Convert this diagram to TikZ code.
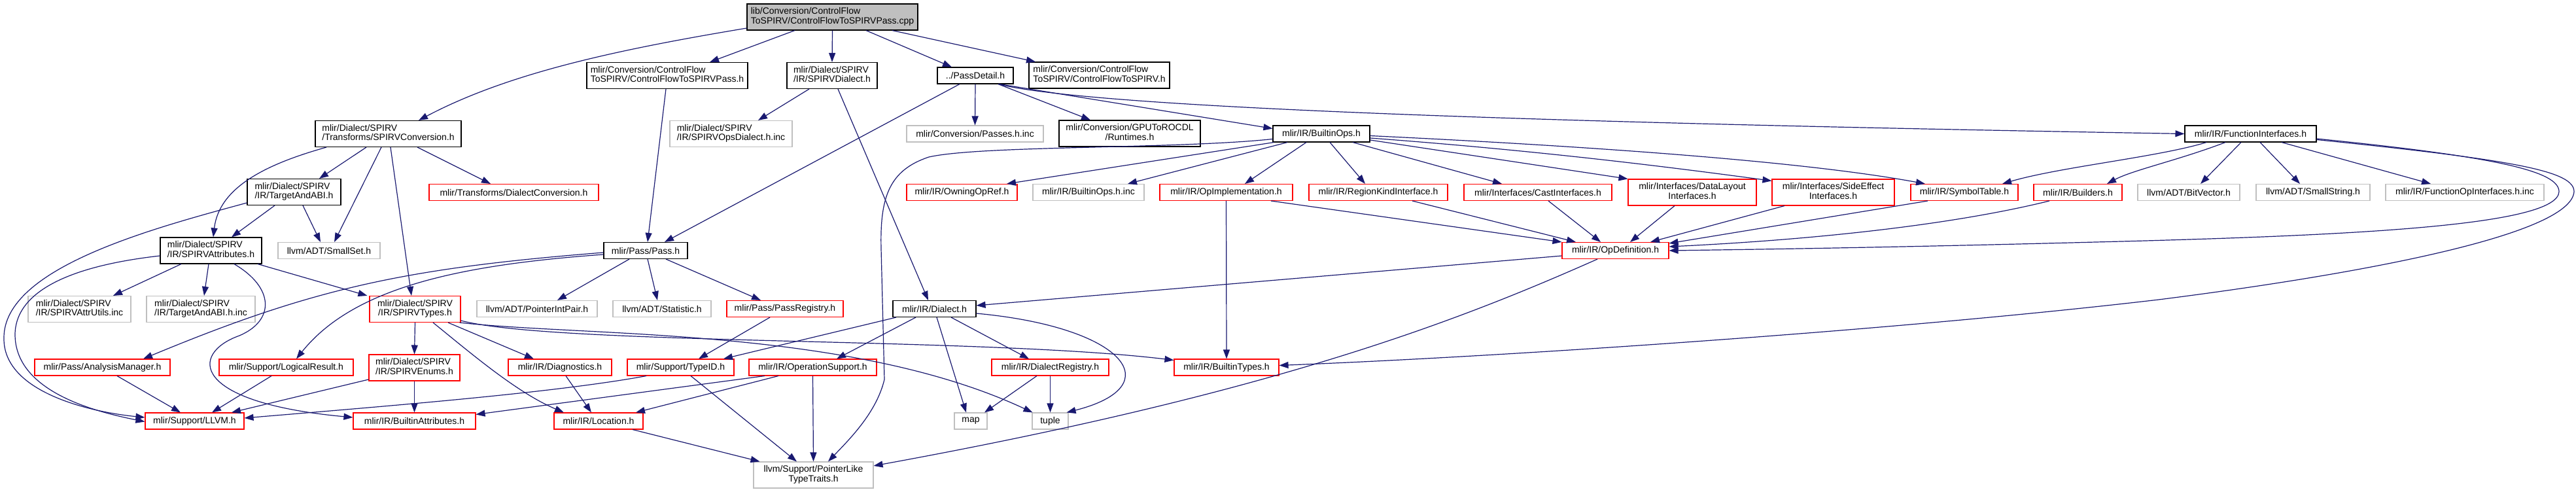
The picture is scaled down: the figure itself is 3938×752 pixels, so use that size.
\documentclass[tikz,border=0pt]{standalone}
\usepackage{fontspec}
\setmainfont{Liberation Sans}
\usetikzlibrary{arrows.meta}
\definecolor{edgeblue}{HTML}{191970}
\definecolor{grayline}{HTML}{BFBFBF}
\definecolor{topfill}{HTML}{BFBFBF}
\newcommand{\twoline}[2]{\begin{tabular}{@{}l@{}}#1\\\multicolumn{1}{@{}c@{}}{#2}\end{tabular}}
\renewcommand{\arraystretch}{1}
\tikzset{
  nd/.style={draw=black, line width=1.1pt, fill=white, inner sep=0pt, minimum height=25pt,
    font=\fontsize{14}{14.5}\selectfont, anchor=center},
  rnd/.style={nd, draw=red},
  gnd/.style={nd, draw=grayline},
  tall/.style={minimum height=40pt},
  e/.style={draw=edgeblue, line width=1.2pt, -{Triangle[length=14pt,width=10pt]}}
}
\begin{document}
\begin{tikzpicture}[x=1pt,y=-1pt]
\useasboundingbox (0,0) rectangle (3938,752);
% row 1
\node[nd, tall, fill=topfill, minimum width=261pt] (top) at (1272.5,26) {\twoline{lib/Conversion/ControlFlow}{ToSPIRV/ControlFlowToSPIRVPass.cpp}};
% row 2
\node[nd, tall, minimum width=246pt] (cfpass) at (1020,115.5) {\twoline{mlir/Conversion/ControlFlow}{ToSPIRV/ControlFlowToSPIRVPass.h}};
\node[nd, tall, minimum width=138pt] (spdialect) at (1272,115.5) {\twoline{mlir/Dialect/SPIRV}{/IR/SPIRVDialect.h}};
\node[nd, minimum width=116pt] (passdetail) at (1491,115.5) {../PassDetail.h};
\node[nd, tall, minimum width=215pt] (cfh) at (1680.5,115) {\twoline{mlir/Conversion/ControlFlow}{ToSPIRV/ControlFlowToSPIRV.h}};
% row 3
\node[nd, tall, minimum width=223pt] (conv) at (593.5,204.5) {\twoline{mlir/Dialect/SPIRV}{/Transforms/SPIRVConversion.h}};
\node[gnd, tall, minimum width=187pt] (opsdialect) at (1117.5,204.5) {\twoline{mlir/Dialect/SPIRV}{/IR/SPIRVOpsDialect.h.inc}};
\node[gnd, minimum width=209pt] (passesinc) at (1490.5,204.5) {mlir/Conversion/Passes.h.inc};
\node[nd, tall, minimum width=216pt] (rocdl) at (1727,204) {\twoline{mlir/Conversion/GPUToROCDL}{/Runtimes.h}};
\node[nd, minimum width=148pt] (builtinops) at (2020,204.5) {mlir/IR/BuiltinOps.h};
\node[nd, minimum width=201pt] (funcif) at (3440.5,204.5) {mlir/IR/FunctionInterfaces.h};
% row 4
\node[nd, tall, minimum width=143pt] (targetabi) at (449.5,293.5) {\twoline{mlir/Dialect/SPIRV}{/IR/TargetAndABI.h}};
\node[rnd, minimum width=259pt] (dialconv) at (785.5,294) {mlir/Transforms/DialectConversion.h};
\node[rnd, minimum width=169pt] (owning) at (1470.5,294) {mlir/IR/OwningOpRef.h};
\node[gnd, minimum width=170pt] (builtinopsinc) at (1664,294) {mlir/IR/BuiltinOps.h.inc};
\node[rnd, minimum width=203pt] (opimpl) at (1874.5,294) {mlir/IR/OpImplementation.h};
\node[rnd, minimum width=212pt] (regionkind) at (2107,294) {mlir/IR/RegionKindInterface.h};
\node[rnd, minimum width=226pt] (castif) at (2351,294) {mlir/Interfaces/CastInterfaces.h};
\node[rnd, tall, minimum width=196pt] (datalayout) at (2587,294) {\twoline{mlir/Interfaces/DataLayout}{Interfaces.h}};
\node[rnd, tall, minimum width=187pt] (sideeffect) at (2802.5,294) {\twoline{mlir/Interfaces/SideEffect}{Interfaces.h}};
\node[rnd, minimum width=164pt] (symtab) at (3003,294) {mlir/IR/SymbolTable.h};
\node[rnd, minimum width=135pt] (builders) at (3176.5,294) {mlir/IR/Builders.h};
\node[gnd, minimum width=156pt] (bitvector) at (3346,294) {llvm/ADT/BitVector.h};
\node[gnd, minimum width=174pt] (smallstring) at (3536,294) {llvm/ADT/SmallString.h};
\node[gnd, minimum width=242pt] (funcopinc) at (3768,294) {mlir/IR/FunctionOpInterfaces.h.inc};
% row 5
\node[nd, tall, minimum width=155pt] (attrs) at (322.5,383) {\twoline{mlir/Dialect/SPIRV}{/IR/SPIRVAttributes.h}};
\node[gnd, minimum width=156pt] (smallset) at (503,383) {llvm/ADT/SmallSet.h};
\node[nd, minimum width=128pt] (pass) at (987,383) {mlir/Pass/Pass.h};
\node[rnd, minimum width=163pt] (opdef) at (2469.5,383) {mlir/IR/OpDefinition.h};
% row 6
\node[gnd, tall, minimum width=157pt] (attrutils) at (121.5,472.5) {\twoline{mlir/Dialect/SPIRV}{/IR/SPIRVAttrUtils.inc}};
\node[gnd, tall, minimum width=166pt] (abiinc) at (307,472.5) {\twoline{mlir/Dialect/SPIRV}{/IR/TargetAndABI.h.inc}};
\node[rnd, tall, minimum width=139pt] (types) at (634.5,472.5) {\twoline{mlir/Dialect/SPIRV}{/IR/SPIRVTypes.h}};
\node[gnd, minimum width=184pt] (ptrintpair) at (821,472) {llvm/ADT/PointerIntPair.h};
\node[gnd, minimum width=150pt] (statistic) at (1012,472) {llvm/ADT/Statistic.h};
\node[rnd, minimum width=178pt] (passreg) at (1200,472) {mlir/Pass/PassRegistry.h};
\node[nd, minimum width=127pt] (dialect) at (1428.5,472) {mlir/IR/Dialect.h};
% row 7
\node[rnd, minimum width=207pt] (analysis) at (156.5,561.5) {mlir/Pass/AnalysisManager.h};
\node[rnd, minimum width=205pt] (logical) at (437.5,561.5) {mlir/Support/LogicalResult.h};
\node[rnd, tall, minimum width=139pt] (enums) at (633.5,562) {\twoline{mlir/Dialect/SPIRV}{/IR/SPIRVEnums.h}};
\node[rnd, minimum width=158pt] (diag) at (856,561.5) {mlir/IR/Diagnostics.h};
\node[rnd, minimum width=163pt] (typeid) at (1040.5,561.5) {mlir/Support/TypeID.h};
\node[rnd, minimum width=195pt] (opsupport) at (1242.5,561.5) {mlir/IR/OperationSupport.h};
\node[rnd, minimum width=179pt] (dialreg) at (1605.5,561.5) {mlir/IR/DialectRegistry.h};
\node[rnd, minimum width=160pt] (builtintypes) at (1875,561.5) {mlir/IR/BuiltinTypes.h};
% row 8
\node[rnd, minimum width=151pt] (llvmh) at (297.5,643.5) {mlir/Support/LLVM.h};
\node[rnd, minimum width=187pt] (battrs) at (633.5,643.5) {mlir/IR/BuiltinAttributes.h};
\node[rnd, minimum width=136pt] (location) at (915,643.5) {mlir/IR/Location.h};
\node[gnd, minimum width=50pt] (map) at (1484,643.5) {map};
\node[gnd, minimum width=55pt] (tuple) at (1605.5,643.5) {tuple};
% row 9
\node[gnd, tall, minimum width=183pt] (ptrlike) at (1243.5,726) {\twoline{llvm/Support/PointerLike}{TypeTraits.h}};

% ---- edges from top
\draw[e] ([yshift=-17pt]top.west) .. controls (950,75) and (780,110) .. ([xshift=46.5pt]conv.north);
\draw[e] ([xshift=-57.5pt]top.south) -- ([xshift=65pt]cfpass.north);
\draw[e] (top.south) -- (spdialect.north);
\draw[e] ([xshift=51.5pt]top.south) -- ([xshift=-36pt]passdetail.north);
\draw[e] ([xshift=91.5pt]top.south) -- ([xshift=-97.5pt]cfh.north);
% cfpass, spdialect
\draw[e] ([xshift=-2pt]cfpass.south) -- ([xshift=3pt]pass.north);
\draw[e] ([xshift=-35pt]spdialect.south) -- ([xshift=41.5pt]opsdialect.north);
\draw[e] ([xshift=9pt]spdialect.south) -- ([xshift=-9.5pt]dialect.north);
% passdetail
\draw[e] ([xshift=-24pt]passdetail.south) -- ([xshift=29pt]pass.north);
\draw[e] (passdetail.south) -- (passesinc.north);
\draw[e] ([xshift=35pt]passdetail.south) -- ([xshift=-60pt]rocdl.north);
\draw[e] ([xshift=37pt]passdetail.south) -- ([yshift=8pt]builtinops.west);
\draw[e] ([xshift=35pt]passdetail.south) .. controls (1650,160) and (2200,185) .. (funcif.west);
% conv
\draw[e] ([xshift=-33.5pt]conv.south) -- ([xshift=38.5pt]targetabi.north);
\draw[e] ([xshift=-94.5pt]conv.south) .. controls (410,250) and (335,285) .. ([xshift=3.5pt]attrs.north);
\draw[e] ([xshift=-10.5pt]conv.south) -- ([xshift=8pt]smallset.north);
\draw[e] ([xshift=3.5pt]conv.south) -- ([xshift=-5.5pt]types.north);
\draw[e] ([xshift=44.5pt]conv.south) -- ([xshift=-35.5pt]dialconv.north);
% targetabi
\draw[e] ([xshift=-29.5pt]targetabi.south) -- ([xshift=31.5pt]attrs.north);
\draw[e] ([xshift=13.5pt]targetabi.south) -- ([xshift=-13pt]smallset.north);
\draw[e] ([yshift=-16.5pt]targetabi.west) .. controls (230,350) and (5,410) .. (6,517)
   .. controls (5,600) and (140,630) .. ([yshift=5.5pt]llvmh.west);
% attrs
\draw[e] ([yshift=-8pt]attrs.west) .. controls (120,405) and (25,440) .. (23,510)
   .. controls (22,600) and (150,630) .. ([yshift=-1pt]llvmh.west);
\draw[e] ([xshift=-45.5pt]attrs.south) -- ([xshift=51.5pt]attrutils.north);
\draw[e] ([xshift=-3.5pt]attrs.south) -- ([xshift=5pt]abiinc.north);
\draw[e] ([xshift=35.5pt]attrs.south) .. controls (420,440) and (420,490) .. (366,513)
   .. controls (290,540) and (290,615) .. ([yshift=5.5pt]battrs.west);
\draw[e] ([xshift=71.5pt]attrs.south) -- ([xshift=-3pt]types.north west);
% types
\draw[e] (types.south) -- (enums.north);
\draw[e] ([xshift=50.5pt]types.south) -- ([xshift=-40pt]diag.north);
\draw[e] ([xshift=27.5pt]types.south) .. controls (720,540) and (790,600) .. ([xshift=-53pt]location.north);
\draw[e] ([yshift=-17.5pt]types.east) .. controls (850,528) and (1500,515) .. ([yshift=11pt]builtintypes.west);
\draw[e] ([xshift=-2pt]types.south east) .. controls (900,515) and (1300,500) .. ([xshift=-27pt]tuple.north);
% enums
\draw[e] ([yshift=-18pt]enums.west) -- ([xshift=56.5pt]llvmh.north);
\draw[e] (enums.south) -- (battrs.north);
% pass
\draw[e] ([xshift=-25pt]pass.south) -- ([xshift=31pt]ptrintpair.north);
\draw[e] ([xshift=3pt]pass.south) -- ([xshift=-7pt]statistic.north);
\draw[e] ([xshift=31pt]pass.south) -- ([xshift=-37pt]passreg.north);
\draw[e] ([yshift=-3pt]pass.west) .. controls (620,410) and (480,440) .. ([xshift=62.5pt]analysis.north);
\draw[e] ([yshift=-6pt]pass.west) .. controls (700,405) and (540,440) .. ([xshift=15.5pt]logical.north);
\draw[e] ([xshift=-23pt]passreg.south) -- ([xshift=27.5pt]typeid.north);
% builtinops
\draw[e] ([xshift=2pt]builtinops.south west) -- ([xshift=68.5pt]owning.north);
\draw[e] ([xshift=-52pt]builtinops.south) -- ([xshift=60pt]builtinopsinc.north);
\draw[e] ([xshift=-23pt]builtinops.south) -- ([xshift=28.5pt]opimpl.north);
\draw[e] ([xshift=13pt]builtinops.south) -- ([xshift=-20pt]regionkind.north);
\draw[e] ([xshift=48pt]builtinops.south) -- ([xshift=-55pt]castif.north);
\draw[e] ([yshift=-9.5pt]builtinops.east) -- (datalayout.north west);
\draw[e] ([yshift=-6.5pt]builtinops.east) .. controls (2350,230) and (2550,255) .. ([yshift=-3pt]sideeffect.north west);
\draw[e] ([yshift=-3pt]builtinops.east) .. controls (2400,222) and (2750,245) .. ([xshift=-60pt]symtab.north);
\draw[e] ([yshift=-8pt]builtinops.west) .. controls (1800,228) and (1500,222) .. (1420,240)
   .. controls (1360,260) and (1345,300) .. (1347,380) -- (1352,580)
   .. controls (1340,630) and (1300,670) .. ([xshift=22.5pt]ptrlike.north);
% opimpl and interfaces -> opdef
\draw[e] ([xshift=68.5pt]opimpl.south) -- (opdef.north west);
\draw[e] (opimpl.south) -- (builtintypes.north);
\draw[e] ([xshift=52pt]regionkind.south) -- ([xshift=-60.5pt]opdef.north);
\draw[e] ([xshift=16pt]castif.south) -- ([xshift=-22.5pt]opdef.north);
\draw[e] ([xshift=-27pt]datalayout.south) -- ([xshift=22.5pt]opdef.north);
\draw[e] ([xshift=-74.5pt]sideeffect.south) -- ([xshift=53.5pt]opdef.north);
\draw[e] ([xshift=-56pt]symtab.south) -- ([yshift=-2pt]opdef.north east);
\draw[e] ([xshift=-43.5pt]builders.south) .. controls (3000,340) and (2800,365) .. ([yshift=6pt]opdef.east);
% funcif
\draw[e] ([yshift=-7.5pt]funcif.east) .. controls (3820,240) and (3912,262) .. (3912,293)
   .. controls (3910,345) and (3600,360) .. (3204,370)
   .. controls (2900,378) and (2700,381) .. (opdef.east);
\draw[e] ([yshift=-9pt]funcif.east) .. controls (3850,245) and (3935,262) .. (3935,293)
   .. controls (3930,360) and (3600,420) .. (3300,458)
   .. controls (2900,505) and (2300,545) .. ([yshift=3pt]builtintypes.east);
\draw[e] ([xshift=-67.5pt]funcif.south) .. controls (3300,240) and (3150,255) .. ([xshift=58pt]symtab.north);
\draw[e] ([xshift=-38.5pt]funcif.south) .. controls (3330,245) and (3260,260) .. ([xshift=44.5pt]builders.north);
\draw[e] ([xshift=-14.5pt]funcif.south) -- ([xshift=18pt]bitvector.north);
\draw[e] ([xshift=14.5pt]funcif.south) -- ([xshift=-20pt]smallstring.north);
\draw[e] ([xshift=47.5pt]funcif.south) -- ([xshift=-52pt]funcopinc.north);
% opdef
\draw[e] ([yshift=-8pt]opdef.west) -- ([yshift=5pt]dialect.east);
\draw[e] ([xshift=-27.5pt]opdef.south) .. controls (2230,490) and (1950,600) .. ([yshift=14pt]ptrlike.east);
% dialect
\draw[e] ([xshift=-58.5pt]dialect.south) -- ([xshift=65.5pt]typeid.north);
\draw[e] ([xshift=-28.5pt]dialect.south) -- ([xshift=36.5pt]opsupport.north);
\draw[e] ([xshift=3.5pt]dialect.south) -- ([xshift=-7pt]map.north);
\draw[e] ([xshift=25.5pt]dialect.south) -- ([xshift=-32.5pt]dialreg.north);
\draw[e] ([yshift=-7pt]dialect.east) .. controls (1720,500) and (1790,590) .. ([xshift=-3pt]tuple.north east);
\draw[e] ([xshift=-20.5pt]dialreg.south) -- ([xshift=21pt]map.north);
\draw[e] (dialreg.south) -- (tuple.north);
% opsupport
\draw[e] ([xshift=-73.5pt]opsupport.south) -- ([yshift=10pt]battrs.east);
\draw[e] ([xshift=-52.5pt]opsupport.south) -- ([xshift=57pt]location.north);
\draw[e] (opsupport.south) -- (ptrlike.north);
% typeid, diag, location
\draw[e] ([xshift=15.5pt]typeid.south) -- ([xshift=-25.5pt]ptrlike.north);
\draw[e] ([xshift=-52.5pt]typeid.south) .. controls (850,600) and (600,620) .. ([yshift=4.5pt]llvmh.east);
\draw[e] ([xshift=9pt]diag.south) -- ([xshift=-11pt]location.north);
\draw[e] ([xshift=52pt]location.south) -- ([xshift=-82pt]ptrlike.north);
% analysis, logical
\draw[e] ([xshift=22.5pt]analysis.south) -- ([xshift=-21.5pt]llvmh.north);
\draw[e] ([xshift=-22.5pt]logical.south) -- ([xshift=26.5pt]llvmh.north);
\end{tikzpicture}
\end{document}
